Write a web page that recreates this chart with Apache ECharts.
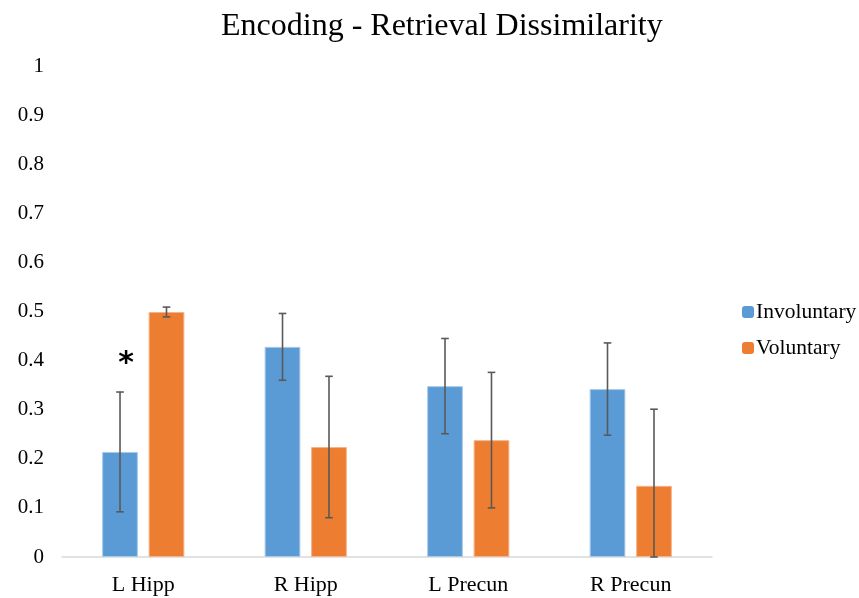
<!DOCTYPE html>
<html>
<head>
<meta charset="utf-8">
<script src="https://cdn.jsdelivr.net/npm/echarts@6/dist/echarts.min.js"></script>
<style>html,body{margin:0;padding:0;background:#fff;}#c{width:859px;height:598px;}</style>
</head>
<body>
<div id="c"></div>
<script>
var categories = ['L Hipp', 'R Hipp', 'L Precun', 'R Precun'];
var involuntary = [0.214, 0.428, 0.348, 0.342];
var involuntaryErr = [0.122, 0.068, 0.097, 0.094];
var voluntary = [0.499, 0.224, 0.238, 0.145];
var voluntaryErr = [0.010, 0.144, 0.138, 0.156];
var yTicks = [0, 0.1, 0.2, 0.3, 0.4, 0.5, 0.6, 0.7, 0.8, 0.9, 1];
var sigMarks = [{cat: 0, value: 0.392, text: '*'}];

var BAR_PCT = 0.22, GAP_PCT = 0.30;
var font = '"Liberation Serif", "Times New Roman", serif';

function errData(vals, errs) {
  return vals.map(function (v, i) { return [i, Math.max(0, v - errs[i]), v + errs[i]]; });
}
function errRender(side) {
  return function (params, api) {
    var band = api.size([1, 0])[0];
    var bw = band * BAR_PCT;
    var off = side * (bw + bw * GAP_PCT) / 2;
    var lo = api.coord([api.value(0), api.value(1)]);
    var hi = api.coord([api.value(0), api.value(2)]);
    var x = lo[0] + off, cap = 3.8;
    var st = {stroke: '#595959', lineWidth: 1.6};
    return {type: 'group', children: [
      {type: 'line', shape: {x1: x, y1: lo[1], x2: x, y2: hi[1]}, style: st},
      {type: 'line', shape: {x1: x - cap, y1: lo[1], x2: x + cap, y2: lo[1]}, style: st},
      {type: 'line', shape: {x1: x - cap, y1: hi[1], x2: x + cap, y2: hi[1]}, style: st}
    ]};
  };
}

var chart = echarts.init(document.getElementById('c'));
chart.setOption({
  animation: false,
  title: {text: 'Encoding - Retrieval Dissimilarity', left: 216, top: 6,
    textStyle: {fontFamily: font, fontWeight: 'normal', fontSize: 32, color: '#000'}},
  legend: {orient: 'vertical', left: 737, top: 296, itemWidth: 12, itemHeight: 12, itemGap: 14,
    data: ['Involuntary', 'Voluntary'],
    itemStyle: {borderWidth: 0},
    textStyle: {fontFamily: font, fontSize: 21.5, color: '#000', padding: [0, 0, 0, -3]}},
  grid: {left: 62, right: 147, top: 66, bottom: 41, containLabel: false},
  xAxis: {type: 'category', data: categories,
    axisLine: {lineStyle: {color: '#D9D9D9', width: 1.5}},
    axisTick: {show: false},
    axisLabel: {fontFamily: font, fontSize: 22, color: '#000', margin: 17}},
  yAxis: {type: 'value', min: 0, max: 1, interval: 0.1,
    axisLine: {show: false}, axisTick: {show: false}, splitLine: {show: false},
    axisLabel: {fontFamily: font, fontSize: 21, color: '#000', margin: 18,
      formatter: function (v) { var t = yTicks.filter(function (k) { return Math.abs(k - v) < 1e-6; }); return t.length ? String(+t[0].toFixed(1)) : ''; }}},
  series: [
    {name: 'Involuntary', type: 'bar', data: involuntary, barWidth: (BAR_PCT * 100) + '%', barGap: (GAP_PCT * 100) + '%',
      itemStyle: {color: '#5B9BD5', borderColor: '#A9CBEA', borderWidth: 1}},
    {name: 'Voluntary', type: 'bar', data: voluntary, barWidth: (BAR_PCT * 100) + '%', barGap: (GAP_PCT * 100) + '%',
      itemStyle: {color: '#ED7D31', borderColor: '#F5B48A', borderWidth: 1}},
    {type: 'custom', data: errData(involuntary, involuntaryErr), renderItem: errRender(-1), z: 5, silent: true},
    {type: 'custom', data: errData(voluntary, voluntaryErr), renderItem: errRender(1), z: 5, silent: true},
    {type: 'custom', data: sigMarks.map(function (s) { return [s.cat, s.value, s.text]; }), z: 6, silent: true,
      renderItem: function (params, api) {
        var band = api.size([1, 0])[0];
        var bw = band * BAR_PCT;
        var p = api.coord([api.value(0), api.value(1)]);
        return {type: 'text', style: {text: sigMarks[params.dataIndex].text, x: p[0] - (bw + bw * GAP_PCT) / 2 + 6, y: p[1],
          textAlign: 'center', textVerticalAlign: 'middle', fontSize: 30, fontWeight: 'bold', fontFamily: 'DejaVu Sans', fill: '#000'}};
      }}
  ]
});
</script>
</body>
</html>
